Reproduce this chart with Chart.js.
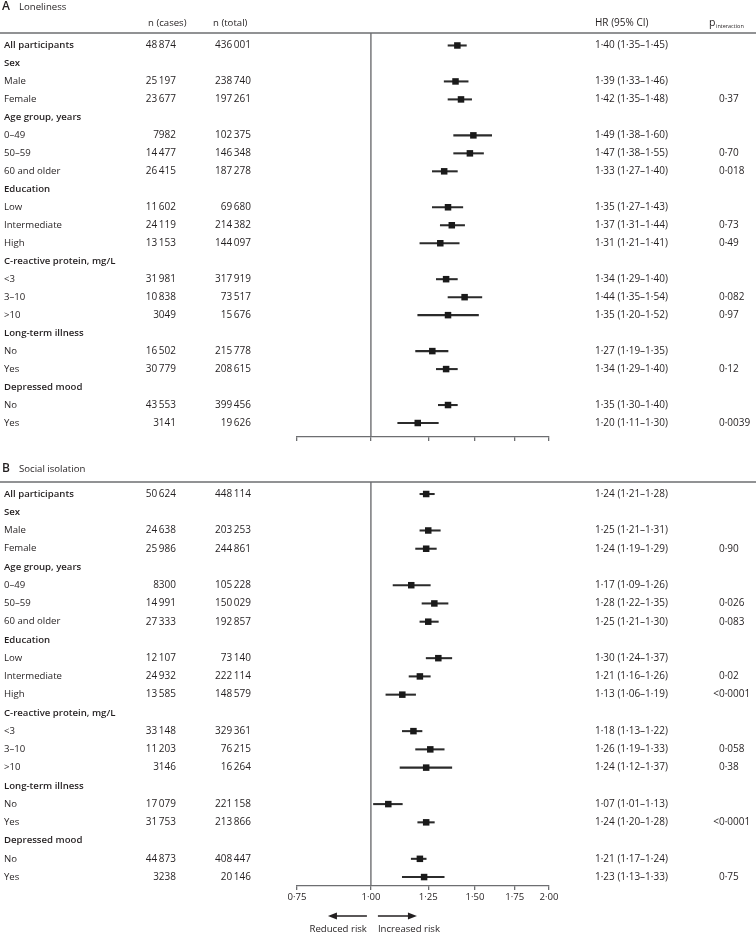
<!DOCTYPE html>
<html><head><meta charset="utf-8">
<script src="https://cdn.jsdelivr.net/npm/chart.js@4/dist/chart.umd.min.js"></script>
<style>
html,body{margin:0;padding:0;background:#fff;}
#wrap{position:relative;width:756px;height:933px;overflow:hidden;}
canvas{position:absolute;left:0;}
</style></head><body>
<div id="wrap">
<canvas id="cA" width="756" height="455" style="top:0"></canvas>
<canvas id="cB" width="756" height="478" style="top:455px"></canvas>
</div>
<script>
// ---------- data ----------
const rowLabels = ['All participants','Sex','Male','Female','Age group, years','0–49','50–59','60 and older',
  'Education','Low','Intermediate','High','C-reactive protein, mg/L','<3','3–10','>10',
  'Long-term illness','No','Yes','Depressed mood','No','Yes'];
const groupRows = [0,1,4,8,12,16,19];
const tickValues = [0.75, 1.00, 1.25, 1.50, 1.75, 2.00];

const lonCases = [48874,null,25197,23677,null,7982,14477,26415,null,11602,24119,13153,null,31981,10838,3049,null,16502,30779,null,43553,3141];
const lonTotal = [436001,null,238740,197261,null,102375,146348,187278,null,69680,214382,144097,null,317919,73517,15676,null,215778,208615,null,399456,19626];
const lonHR = [1.40,null,1.39,1.42,null,1.49,1.47,1.33,null,1.35,1.37,1.31,null,1.34,1.44,1.35,null,1.27,1.34,null,1.35,1.20];
const lonLo = [1.35,null,1.33,1.35,null,1.38,1.38,1.27,null,1.27,1.31,1.21,null,1.29,1.35,1.20,null,1.19,1.29,null,1.30,1.11];
const lonHi = [1.45,null,1.46,1.48,null,1.60,1.55,1.40,null,1.43,1.44,1.41,null,1.40,1.54,1.52,null,1.35,1.40,null,1.40,1.30];
const lonP = ['','','','0·37','','','0·70','0·018','','','0·73','0·49','','','0·082','0·97','','','0·12','','','0·0039'];

const isoCases = [50624,null,24638,25986,null,8300,14991,27333,null,12107,24932,13585,null,33148,11203,3146,null,17079,31753,null,44873,3238];
const isoTotal = [448114,null,203253,244861,null,105228,150029,192857,null,73140,222114,148579,null,329361,76215,16264,null,221158,213866,null,408447,20146];
const isoHR = [1.24,null,1.25,1.24,null,1.17,1.28,1.25,null,1.30,1.21,1.13,null,1.18,1.26,1.24,null,1.07,1.24,null,1.21,1.23];
const isoLo = [1.21,null,1.21,1.19,null,1.09,1.22,1.21,null,1.24,1.16,1.06,null,1.13,1.19,1.12,null,1.01,1.20,null,1.17,1.13];
const isoHi = [1.28,null,1.31,1.29,null,1.26,1.35,1.30,null,1.37,1.26,1.19,null,1.22,1.33,1.37,null,1.13,1.28,null,1.24,1.33];
const isoP = ['','','','0·90','','','0·026','0·083','','','0·02','<0·0001','','','0·058','0·38','','','<0·0001','','','0·75'];

// ---------- style ----------
const FONT = '"Open Sans", Lato, sans-serif';
const FS = 9.6;   // labels
const FN = 10;    // numbers
const TEXT = '#231f20';
const GRAY = '#6d6e71';

function fmtN(n){ const s = String(n); return s.length > 4 ? s.slice(0,-3) + '\u2009' + s.slice(-3) : s; }
function fmtD(v){ return v.toFixed(2).replace('.', '·'); }

function line(ctx, x0, y0, x1, y1){ ctx.beginPath(); ctx.moveTo(x0,y0); ctx.lineTo(x1,y1); ctx.stroke(); }

const tablePlugin = {
  id: 'table',
  afterDraw(chart, args, o){
    const ctx = chart.ctx, ys = chart.scales.y, xs = chart.scales.x, ca = chart.chartArea;
    ctx.save();
    ctx.fillStyle = TEXT; ctx.textBaseline = 'middle'; ctx.textAlign = 'left';
    // panel title
    ctx.font = `600 12px ${FONT}`; ctx.fillText(o.letter, 2, o.titleY);
    ctx.font = `${FS}px ${FONT}`; ctx.fillText(o.title, 19, o.titleY);
    // column headers
    if (o.header){
      ctx.fillText('n (cases)', 148, o.headerY);
      ctx.fillText('n (total)', 213, o.headerY);
      ctx.font = `${FN}px ${FONT}`;
      ctx.fillText('HR (95% CI)', 595, o.headerY);
      ctx.font = `10.5px ${FONT}`; ctx.fillText('p', 709, o.headerY);
      ctx.font = `5.5px ${FONT}`; ctx.fillText('interaction', 716, o.headerY + 3);
    }
    // header rule and reference line
    ctx.strokeStyle = GRAY; ctx.lineWidth = 1.4;
    line(ctx, 0, ca.top, chart.width, ca.top);
    const x1 = xs.getPixelForValue(1);
    line(ctx, x1, ca.top, x1, ca.bottom);
    // rows
    rowLabels.forEach((lab, i) => {
      const y = ys.getPixelForValue(i);
      ctx.textAlign = 'left';
      ctx.font = (groupRows.includes(i) ? '600 ' : '') + `${FS}px ${FONT}`;
      ctx.fillText(lab, 4, y);
      ctx.font = `${FN}px ${FONT}`;
      if (o.cases[i] != null){
        ctx.textAlign = 'right';
        ctx.fillText(fmtN(o.cases[i]), 176, y);
        ctx.fillText(fmtN(o.total[i]), 251, y);
        ctx.textAlign = 'left';
        ctx.fillText(`${fmtD(o.hr[i])} (${fmtD(o.lo[i])}–${fmtD(o.hi[i])})`, 595, y);
      }
      const p = o.p[i];
      if (p){
        let px = 719;
        if (p[0] === '<') px -= ctx.measureText('<').width;
        ctx.fillText(p, px, y);
      }
    });
    // direction arrows
    if (o.arrows){
      const ay = ca.bottom + 30, ty = ca.bottom + 43;
      ctx.strokeStyle = TEXT; ctx.fillStyle = TEXT; ctx.lineWidth = 1.5;
      line(ctx, x1 - 4, ay, x1 - 36, ay);
      ctx.beginPath(); ctx.moveTo(x1 - 43, ay); ctx.lineTo(x1 - 34, ay - 3.5); ctx.lineTo(x1 - 34, ay + 3.5); ctx.closePath(); ctx.fill();
      line(ctx, x1 + 7, ay, x1 + 39, ay);
      ctx.beginPath(); ctx.moveTo(x1 + 46, ay); ctx.lineTo(x1 + 37, ay - 3.5); ctx.lineTo(x1 + 37, ay + 3.5); ctx.closePath(); ctx.fill();
      ctx.font = `${FS}px ${FONT}`;
      ctx.textAlign = 'right'; ctx.fillText('Reduced risk', x1 - 4, ty);
      ctx.textAlign = 'left'; ctx.fillText('Increased risk', x1 + 7, ty);
    }
    ctx.restore();
  }
};

function makePanel(id, cfg){
  const idx = rowLabels.map((_, i) => i).filter(i => cfg.hr[i] != null);
  new Chart(document.getElementById(id), {
    type: 'bar',
    data: {
      datasets: [
        {
          type: 'bar',
          data: idx.map(i => ({ x: [cfg.lo[i], cfg.hi[i]], y: i })),
          backgroundColor: '#2b2b2b', borderWidth: 0, barThickness: 1.4, order: 2
        },
        {
          type: 'scatter',
          data: idx.map(i => ({ x: cfg.hr[i], y: i })),
          pointStyle: 'rect', pointRadius: 4.6, pointHoverRadius: 4.6,
          backgroundColor: '#1a1a1a', borderWidth: 0, order: 1
        }
      ]
    },
    options: {
      responsive: false, animation: false, devicePixelRatio: 1,
      indexAxis: 'y',
      layout: { padding: { left: 297, right: 207, top: cfg.top, bottom: 0 } },
      plugins: { legend: { display: false }, tooltip: { enabled: false }, table: cfg },
      scales: {
        y: { type: 'linear', reverse: true, min: cfg.yMin, max: cfg.yMax, display: false, offset: false },
        x: {
          type: 'logarithmic', min: 0.75, max: 2,
          afterBuildTicks: s => { s.ticks = tickValues.map(v => ({ value: v })); },
          afterFit: s => { s.height = cfg.axisH; },
          grid: { drawOnChartArea: false, drawTicks: true, tickLength: 4, color: GRAY, lineWidth: 1.3 },
          border: { color: GRAY, width: 1.3 },
          ticks: { display: cfg.tickLabels, padding: 2, color: TEXT, font: { family: FONT, size: FS },
                   maxRotation: 0, autoSkip: false, callback: v => fmtD(v) }
        }
      }
    },
    plugins: [tablePlugin]
  });
}

makePanel('cA', { letter: 'A', title: 'Loneliness', titleY: 7, header: true, headerY: 23,
  top: 33, axisH: 18, yMin: -0.694, yMax: 21.778, tickLabels: false, arrows: false,
  cases: lonCases, total: lonTotal, hr: lonHR, lo: lonLo, hi: lonHi, p: lonP });

makePanel('cB', { letter: 'B', title: 'Social isolation', titleY: 14, header: false, headerY: 0,
  top: 27, axisH: 47, yMin: -0.658, yMax: 21.49, tickLabels: true, arrows: true,
  cases: isoCases, total: isoTotal, hr: isoHR, lo: isoLo, hi: isoHi, p: isoP });
</script>
</body></html>
